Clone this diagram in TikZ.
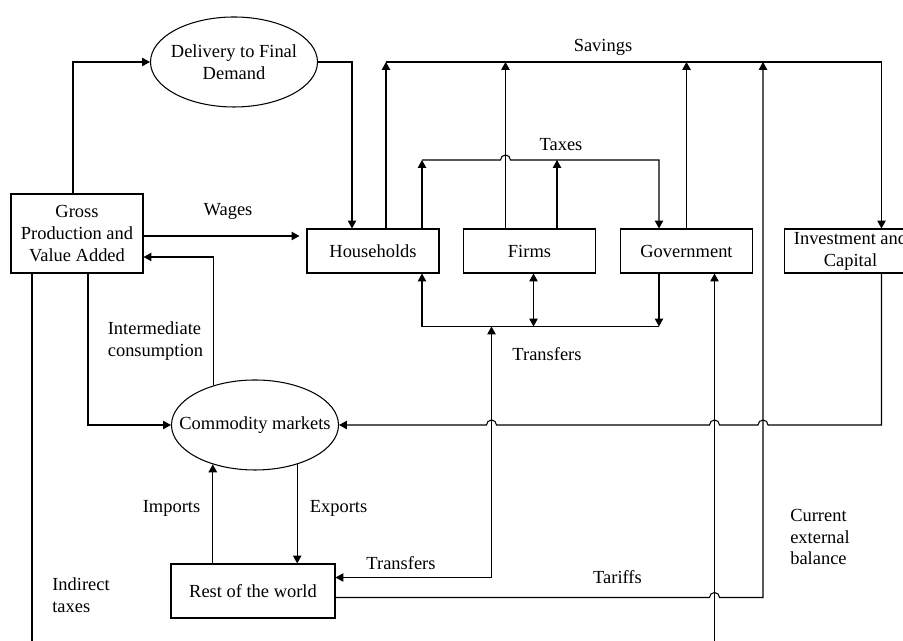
\documentclass[tikz,border=0pt]{standalone}
\usepackage{fontspec}
\setmainfont{Liberation Serif}
\usetikzlibrary{arrows.meta, positioning, shapes.geometric}
\tikzset{
  box/.style={draw, rectangle, minimum width=2.64cm, minimum height=0.88cm, align=center, inner sep=1pt},
  oval/.style={draw, ellipse, minimum width=3.34cm, minimum height=1.8cm, inner sep=0pt},
  flow/.style={-{Triangle[length=4.5pt, width=4.8pt]}},
  twoway/.style={{Triangle[length=4.5pt, width=4.8pt]}-{Triangle[length=4.5pt, width=4.8pt]}},
  lbl/.style={inner sep=0pt, align=left},
}

\begin{document}
\begin{tikzpicture}[line width=0.6pt, font=\fontsize{10.5}{12.5}\selectfont]
  \useasboundingbox (0,0) rectangle (18.06,12.82);
  \node[box, minimum height=1.58cm] (gross) at (1.54,8.15) {Gross\\Production and\\Value Added};
  \node[oval] (deliv) at (4.68,11.58) {};
  \node[align=center] (delivtxt) at (deliv) {Delivery to Final\\Demand};
  \node[box] (hh) at (7.46,7.80) {Households};
  \node[box] (firms) at (10.59,7.80) {Firms};
  \node[box] (gov) at (13.73,7.80) {Government};
  \node[box] (inv) at (17.01,7.80) {Investment and\\Capital};
  \node[oval] (comm) at (5.10,4.32) {};
  \node (commtxt) at (comm) {Commodity markets};
  \node[box, minimum width=3.28cm, minimum height=1.08cm] (row) at (5.06,1.00) {Rest of the world};

  \draw[flow] (1.46,0 |- gross.north) |- (deliv.west);
  \draw[flow] (deliv.east) -| (7.04,0 |- hh.north);
  \draw[flow, shorten >=0.14cm] (gross.east |- 0,8.10) -- (hh.west |- 0,8.10);
  \draw[flow] (comm.136) |- (gross.east |- 0,7.68);
  \draw[flow] (1.76,0 |- gross.south) |- (comm.west);
  \draw[flow] (0.64,0 |- gross.south) -- (0.64,-0.5) -| (14.29,0 |- gov.south);

  \draw[flow] (7.72,0 |- hh.north) -- (7.72,11.58);
  \draw[flow] (7.72,11.58) -| (17.63,0 |- inv.north);
  \draw[flow] (10.11,0 |- firms.north) -- (10.11,11.58);
  \draw[flow] (gov.north) -- (gov.north |- 0,11.58);
  \draw[flow] (row.east |- 0,0.87) -- (14.19,0.87) arc[start angle=180, end angle=0, radius=0.1]
    -- (15.26,0.87) -- (15.26,11.58);

  \draw[flow] (8.44,0 |- hh.north) -- (8.44,9.62);
  \draw[flow] (8.44,9.62) -- (10.01,9.62) arc[start angle=180, end angle=0, radius=0.1]
    -- (13.18,9.62) -- (13.18,0 |- gov.north);
  \draw[flow] (11.14,0 |- firms.north) -- (11.14,9.62);

  \draw[flow] (13.18,0 |- gov.south) -- (13.18,6.29);
  \draw[flow] (13.18,6.29) -| (8.44,0 |- hh.south);
  \draw[twoway] (10.67,0 |- firms.south) -- (10.67,6.29);
  \draw[twoway] (row.east |- 0,1.27) -| (9.83,6.29);

  \draw[flow] (17.63,0 |- inv.south) -- (17.63,4.32)
    -- (15.36,4.32) arc[start angle=0, end angle=180, radius=0.1]
    -- (14.39,4.32) arc[start angle=0, end angle=180, radius=0.1]
    -- (9.93,4.32) arc[start angle=0, end angle=180, radius=0.1]
    -- (comm.east);
  \draw[flow] (comm.223 |- row.north) -- (comm.223);
  \draw[flow] (comm.317) -- (comm.317 |- row.north);

  \node (wages) at (4.56,8.60) {Wages};
  \node (savings) at (12.06,11.87) {Savings};
  \node (taxes) at (11.22,9.92) {Taxes};
  \node (transup) at (10.94,5.74) {Transfers};
  \node[lbl] (intcons) at (3.11,6.00) {Intermediate\\consumption};
  \node (imports) at (3.43,2.66) {Imports};
  \node (exports) at (6.77,2.66) {Exports};
  \node (translow) at (8.02,1.56) {Transfers};
  \node[lbl] (indtax) at (1.62,0.92) {Indirect\\taxes};
  \node (tariffs) at (12.35,1.28) {Tariffs};
  \node[lbl] (curbal) at (16.40,2.08) {Current\\external\\balance};
\end{tikzpicture}
\end{document}
